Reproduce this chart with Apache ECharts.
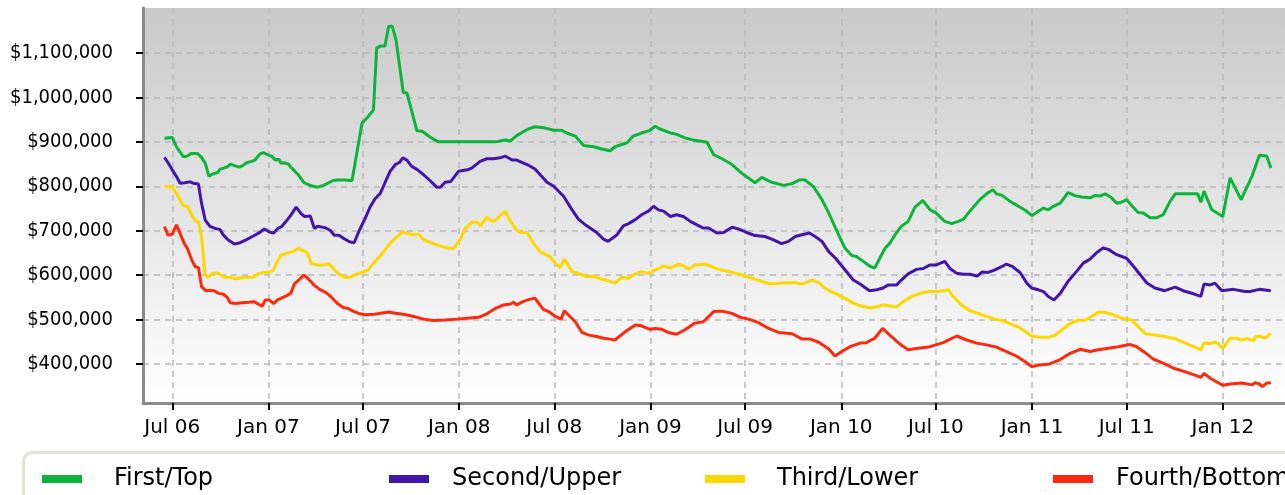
<!DOCTYPE html>
<html><head><meta charset="utf-8">
<script src="https://cdn.jsdelivr.net/npm/echarts@6/dist/echarts.min.js"></script>
<style>html,body{margin:0;padding:0;background:#fff;overflow:hidden}#c{width:1285px;height:495px}</style>
</head><body><div id="c"></div>
<script>
// ---- data (values in thousands of dollars) ----
const seriesNames = ['First/Top', 'Second/Upper', 'Third/Lower', 'Fourth/Bottom'];
const seriesColors = ['#0cb53a', '#4216a8', '#fdd700', '#fb2a0e'];
const xTickDates = ['2006-07-01','2007-01-01','2007-07-01','2008-01-01','2008-07-01','2009-01-01','2009-07-01','2010-01-01','2010-07-01','2011-01-01','2011-07-01','2012-01-01'];
const xTickLabels = ['Jul 06','Jan 07','Jul 07','Jan 08','Jul 08','Jan 09','Jul 09','Jan 10','Jul 10','Jan 11','Jul 11','Jan 12'];
const yTickValues = [400, 500, 600, 700, 800, 900, 1000, 1100];

const firstTop = [
['2006-06-16',908],['2006-07-01',910],['2006-07-09',889],['2006-07-22',867],['2006-07-28',867],['2006-08-06',874],['2006-08-18',874],['2006-08-26',865],['2006-09-02',852],['2006-09-09',823],['2006-09-17',828],['2006-09-26',831],['2006-09-30',838],['2006-10-13',843],['2006-10-21',850],['2006-10-29',846],['2006-11-06',843],['2006-11-12',846],['2006-11-20',853],['2006-11-30',856],['2006-12-06',859],['2006-12-16',873],['2006-12-22',876],
['2007-01-01',870],['2007-01-08',867],['2007-01-14',859],['2007-01-21',861],['2007-01-25',852],['2007-02-01',853],['2007-02-08',850],['2007-02-17',838],['2007-02-27',826],['2007-03-10',808],['2007-03-24',801],['2007-04-05',798],['2007-04-16',802],['2007-04-25',807],['2007-05-05',813],['2007-05-14',814],['2007-05-27',814],['2007-06-10',813],['2007-06-29',942],['2007-07-11',957],['2007-07-21',972],['2007-07-27',1111],['2007-08-04',1116],['2007-08-12',1116],['2007-08-19',1160],['2007-08-26',1160],['2007-09-02',1130],['2007-09-16',1011],['2007-09-23',1010],['2007-10-12',925],['2007-10-22',924],['2007-11-06',911],['2007-11-22',900],
['2008-03-10',900],['2008-03-29',904],['2008-04-08',902],['2008-04-20',914],['2008-05-10',928],['2008-05-25',934],['2008-06-10',932],['2008-06-30',926],['2008-07-15',926],['2008-07-25',920],['2008-08-10',913],['2008-08-26',892],['2008-09-14',889],['2008-09-30',884],['2008-10-16',880],['2008-10-25',889],['2008-11-17',898],['2008-11-29',913],['2008-12-15',920],['2008-12-31',926],
['2009-01-10',935],['2009-01-19',929],['2009-02-08',920],['2009-02-20',917],['2009-03-08',909],['2009-03-24',904],['2009-04-19',899],['2009-05-02',871],['2009-05-18',862],['2009-06-06',849],['2009-06-25',829],['2009-07-20',808],['2009-08-02',820],['2009-08-21',809],['2009-09-13',802],['2009-09-29',806],['2009-10-14',815],['2009-10-24',814],['2009-11-09',799],['2009-11-25',770],['2009-12-08',740],['2009-12-21',706],
['2010-01-08',661],['2010-01-21',644],['2010-01-30',642],['2010-02-12',631],['2010-02-25',620],['2010-03-06',616],['2010-03-26',661],['2010-04-04',672],['2010-04-14',691],['2010-04-26',710],['2010-05-09',721],['2010-05-22',753],['2010-06-06',768],['2010-06-20',747],['2010-07-01',740],['2010-07-18',721],['2010-07-31',716],['2010-08-13',721],['2010-08-23',726],['2010-09-04',744],['2010-09-23',770],['2010-10-06',783],['2010-10-18',792],['2010-10-25',783],['2010-11-04',780],['2010-11-20',766],['2010-12-06',755],['2010-12-19',746],
['2011-01-01',734],['2011-01-13',744],['2011-01-23',751],['2011-02-01',747],['2011-02-11',755],['2011-02-24',762],['2011-03-11',786],['2011-03-24',779],['2011-04-06',776],['2011-04-22',774],['2011-05-01',779],['2011-05-11',778],['2011-05-21',783],['2011-06-02',774],['2011-06-12',762],['2011-06-21',764],['2011-07-01',770],['2011-07-11',756],['2011-07-23',741],['2011-08-02',740],['2011-08-15',729],['2011-08-27',729],['2011-09-09',736],['2011-09-22',766],['2011-10-02',783],['2011-11-14',783],['2011-11-20',764],['2011-11-26',789],['2011-12-11',747],
['2012-01-01',732],['2012-01-15',819],['2012-02-05',770],['2012-02-26',823],['2012-03-11',870],['2012-03-25',868],['2012-04-02',841]
];

const secondUpper = [
['2006-06-16',865],['2006-06-23',853],['2006-07-01',837],['2006-07-09',822],['2006-07-16',807],['2006-07-25',808],['2006-08-04',810],['2006-08-10',807],['2006-08-20',805],['2006-08-26',762],['2006-09-02',724],['2006-09-11',710],['2006-09-21',705],['2006-09-30',703],['2006-10-07',690],['2006-10-16',679],['2006-10-28',670],['2006-11-08',673],['2006-11-20',680],['2006-12-03',688],['2006-12-14',695],['2006-12-24',704],
['2007-01-03',697],['2007-01-11',695],['2007-01-19',705],['2007-01-26',709],['2007-02-03',720],['2007-02-13',735],['2007-02-23',753],['2007-03-04',739],['2007-03-11',732],['2007-03-22',733],['2007-03-30',705],['2007-04-05',710],['2007-04-19',707],['2007-04-29',701],['2007-05-07',690],['2007-05-16',690],['2007-05-26',682],['2007-06-05',675],['2007-06-14',673],['2007-06-24',701],['2007-07-04',725],['2007-07-14',752],['2007-07-24',772],['2007-08-03',784],['2007-08-12',808],['2007-08-22',834],['2007-09-01',849],['2007-09-09',854],['2007-09-15',864],['2007-09-23',859],['2007-10-02',845],['2007-10-12',838],['2007-10-25',826],['2007-11-06',813],['2007-11-19',798],['2007-11-26',798],['2007-12-05',809],['2007-12-16',811],['2007-12-31',834],
['2008-01-19',838],['2008-01-25',841],['2008-02-10',856],['2008-02-23',862],['2008-03-07',862],['2008-03-19',864],['2008-03-29',868],['2008-04-11',859],['2008-04-20',859],['2008-05-10',849],['2008-05-25',839],['2008-06-04',826],['2008-06-17',809],['2008-06-30',800],['2008-07-19',777],['2008-08-04',747],['2008-08-16',726],['2008-09-01',711],['2008-09-20',696],['2008-10-03',681],['2008-10-12',676],['2008-10-29',691],['2008-11-10',711],['2008-11-20',716],['2008-12-03',725],['2008-12-15',736],['2008-12-28',744],
['2009-01-07',755],['2009-01-16',747],['2009-01-26',744],['2009-02-08',732],['2009-02-20',736],['2009-03-05',732],['2009-03-18',721],['2009-03-31',713],['2009-04-12',706],['2009-04-22',706],['2009-05-08',695],['2009-05-21',696],['2009-06-06',708],['2009-06-18',704],['2009-07-04',696],['2009-07-20',689],['2009-08-08',687],['2009-08-21',681],['2009-09-09',671],['2009-09-22',676],['2009-10-05',687],['2009-10-18',691],['2009-11-01',695],['2009-11-12',687],['2009-11-25',676],['2009-12-08',653],['2009-12-21',638],
['2010-01-08',612],['2010-01-24',589],['2010-02-06',580],['2010-02-24',565],['2010-03-10',567],['2010-03-22',571],['2010-04-01',578],['2010-04-17',578],['2010-04-26',589],['2010-05-09',603],['2010-05-25',613],['2010-06-07',615],['2010-06-20',623],['2010-07-02',623],['2010-07-18',631],['2010-07-28',615],['2010-08-10',604],['2010-08-23',602],['2010-09-04',602],['2010-09-18',598],['2010-09-27',607],['2010-10-09',606],['2010-10-22',612],['2010-11-04',619],['2010-11-13',625],['2010-11-25',619],['2010-12-09',606],['2010-12-22',582],['2010-12-31',571],
['2011-01-13',567],['2011-01-23',563],['2011-02-01',552],['2011-02-12',544],['2011-02-24',559],['2011-03-11',586],['2011-03-27',608],['2011-04-09',627],['2011-04-22',636],['2011-05-05',651],['2011-05-17',661],['2011-05-27',658],['2011-06-12',646],['2011-07-01',638],['2011-07-14',620],['2011-07-27',601],['2011-08-08',583],['2011-08-24',571],['2011-09-12',565],['2011-10-02',573],['2011-10-17',565],['2011-11-06',558],['2011-11-20',552],['2011-11-26',580],['2011-12-08',578],['2011-12-17',582],['2011-12-30',565],
['2012-01-21',568],['2012-02-13',563],['2012-02-22',563],['2012-03-11',568],['2012-04-02',565]
];

const thirdLower = [
['2006-06-16',799],['2006-07-01',799],['2006-07-09',784],['2006-07-16',769],['2006-07-22',756],['2006-07-30',755],['2006-08-07',736],['2006-08-14',723],['2006-08-20',720],['2006-08-26',686],['2006-09-02',600],['2006-09-08',596],['2006-09-18',605],['2006-09-27',604],['2006-10-07',596],['2006-10-20',595],['2006-10-29',592],['2006-11-11',594],['2006-11-24',595],['2006-12-04',596],['2006-12-14',604],['2006-12-24',606],
['2007-01-01',606],['2007-01-10',610],['2007-01-16',626],['2007-01-25',645],['2007-02-04',649],['2007-02-17',653],['2007-02-27',660],['2007-03-08',656],['2007-03-17',649],['2007-03-24',626],['2007-04-06',623],['2007-04-16',623],['2007-04-27',626],['2007-05-05',615],['2007-05-14',604],['2007-05-27',595],['2007-06-05',595],['2007-06-18',602],['2007-07-01',607],['2007-07-11',612],['2007-07-21',627],['2007-08-02',642],['2007-08-12',657],['2007-08-22',672],['2007-09-04',686],['2007-09-15',698],['2007-09-26',693],['2007-10-06',691],['2007-10-15',692],['2007-10-25',680],['2007-11-06',674],['2007-11-19',668],['2007-12-02',663],['2007-12-15',660],['2007-12-21',660],
['2008-01-03',680],['2008-01-12',704],['2008-01-25',719],['2008-02-04',719],['2008-02-11',711],['2008-02-23',731],['2008-03-04',721],['2008-03-10',723],['2008-03-19',734],['2008-03-29',744],['2008-04-08',721],['2008-04-20',702],['2008-04-27',696],['2008-05-10',696],['2008-05-22',672],['2008-06-04',653],['2008-06-23',641],['2008-07-03',627],['2008-07-12',617],['2008-07-20',636],['2008-08-04',608],['2008-08-20',602],['2008-09-01',597],['2008-09-14',597],['2008-09-27',592],['2008-10-16',586],['2008-10-25',582],['2008-11-07',595],['2008-11-20',593],['2008-12-03',603],['2008-12-15',608],['2008-12-28',604],
['2009-01-10',612],['2009-01-19',616],['2009-01-26',621],['2009-02-08',616],['2009-02-24',625],['2009-03-05',621],['2009-03-15',613],['2009-03-27',623],['2009-04-16',625],['2009-04-28',619],['2009-05-11',613],['2009-05-24',610],['2009-06-15',604],['2009-07-01',598],['2009-07-20',591],['2009-08-02',586],['2009-08-18',580],['2009-09-03',582],['2009-09-19',583],['2009-10-05',583],['2009-10-18',580],['2009-11-06',589],['2009-11-19',583],['2009-12-01',571],['2009-12-12',563],['2009-12-26',556],
['2010-01-11',546],['2010-01-24',537],['2010-02-06',531],['2010-02-15',529],['2010-02-25',526],['2010-03-10',529],['2010-03-22',533],['2010-04-04',531],['2010-04-17',528],['2010-04-30',541],['2010-05-16',552],['2010-06-01',559],['2010-06-17',563],['2010-07-02',563],['2010-07-15',565],['2010-07-25',567],['2010-08-03',552],['2010-08-19',533],['2010-09-04',520],['2010-09-20',514],['2010-10-06',507],['2010-10-22',501],['2010-11-07',497],['2010-11-23',489],['2010-12-06',483],['2010-12-19',473],['2010-12-31',463],
['2011-01-17',460],['2011-02-02',460],['2011-02-15',465],['2011-02-27',477],['2011-03-15',491],['2011-03-30',499],['2011-04-12',498],['2011-04-25',507],['2011-05-08',517],['2011-05-21',516],['2011-06-05',511],['2011-06-21',503],['2011-07-11',499],['2011-07-23',484],['2011-08-06',468],['2011-08-24',465],['2011-09-12',462],['2011-10-02',457],['2011-10-14',451],['2011-11-02',441],['2011-11-20',432],['2011-11-26',447],['2011-12-08',446],['2011-12-17',449],['2011-12-23',446],
['2012-01-01',435],['2012-01-15',458],['2012-01-28',458],['2012-02-06',454],['2012-02-16',457],['2012-02-22',455],['2012-02-29',453],['2012-03-04',462],['2012-03-14',462],['2012-03-22',458],['2012-04-02',469]
];

const fourthBottom = [
['2006-06-16',709],['2006-06-23',690],['2006-07-01',692],['2006-07-09',713],['2006-07-16',694],['2006-07-24',671],['2006-07-30',660],['2006-08-07',635],['2006-08-14',619],['2006-08-20',617],['2006-08-26',574],['2006-09-03',565],['2006-09-11',566],['2006-09-19',565],['2006-09-28',559],['2006-10-07',557],['2006-10-14',550],['2006-10-20',538],['2006-10-30',536],['2006-11-12',538],['2006-11-25',539],['2006-12-05',540],['2006-12-11',536],['2006-12-20',530],['2006-12-26',544],
['2007-01-03',544],['2007-01-11',536],['2007-01-19',545],['2007-01-29',550],['2007-02-04',553],['2007-02-13',560],['2007-02-20',581],['2007-02-28',589],['2007-03-10',600],['2007-03-17',593],['2007-03-30',577],['2007-04-09',568],['2007-04-22',560],['2007-05-01',551],['2007-05-13',536],['2007-05-24',527],['2007-06-02',525],['2007-06-12',519],['2007-06-25',513],['2007-07-05',511],['2007-07-23',512],['2007-08-19',517],['2007-09-01',514],['2007-09-16',512],['2007-10-06',507],['2007-10-25',501],['2007-11-13',498],['2007-12-05',499],['2007-12-28',501],
['2008-01-16',503],['2008-02-07',505],['2008-02-23',513],['2008-03-10',525],['2008-03-26',533],['2008-04-08',535],['2008-04-14',539],['2008-04-20',533],['2008-05-03',541],['2008-05-16',546],['2008-05-25',548],['2008-06-10',523],['2008-06-20',518],['2008-07-03',507],['2008-07-14',501],['2008-07-20',520],['2008-07-30',508],['2008-08-10',495],['2008-08-23',471],['2008-09-05',465],['2008-09-20',462],['2008-10-03',458],['2008-10-16',456],['2008-10-25',454],['2008-11-14',473],['2008-12-03',488],['2008-12-15',486],['2008-12-31',478],
['2009-01-10',480],['2009-01-23',478],['2009-02-04',471],['2009-02-20',467],['2009-03-08',477],['2009-03-27',492],['2009-04-12',495],['2009-05-02',518],['2009-05-18',519],['2009-06-06',514],['2009-06-22',505],['2009-07-08',501],['2009-07-27',493],['2009-08-15',480],['2009-09-03',471],['2009-09-29',468],['2009-10-18',456],['2009-11-03',456],['2009-11-19',449],['2009-12-08',434],['2009-12-20',418],
['2010-01-02',428],['2010-01-18',439],['2010-02-06',447],['2010-02-18',448],['2010-03-06',458],['2010-03-21',480],['2010-04-04',465],['2010-04-23',445],['2010-05-09',432],['2010-05-25',435],['2010-06-20',439],['2010-07-15',448],['2010-08-10',463],['2010-08-29',454],['2010-09-17',447],['2010-10-06',443],['2010-10-25',438],['2010-11-13',428],['2010-12-02',418],['2010-12-19',405],
['2011-01-01',394],['2011-01-16',398],['2011-02-04',400],['2011-02-24',410],['2011-03-15',424],['2011-04-03',433],['2011-04-22',428],['2011-05-08',432],['2011-05-24',435],['2011-06-15',439],['2011-07-07',444],['2011-07-20',439],['2011-08-05',426],['2011-08-21',411],['2011-09-09',402],['2011-09-28',391],['2011-10-17',384],['2011-11-06',376],['2011-11-20',370],['2011-11-26',379],['2011-12-08',368],['2011-12-20',360],
['2012-01-01',352],['2012-01-15',355],['2012-02-06',357],['2012-02-26',353],['2012-03-03',358],['2012-03-11',355],['2012-03-17',349],['2012-03-25',357],['2012-04-02',358]
];

// ---- chart ----
function parseLocal(s) { const p = s.split('-').map(Number); return Date.UTC(p[0], p[1] - 1, p[2]); }
const xTickTimes = xTickDates.map(parseLocal);
const labelByTime = {};
xTickTimes.forEach((t, i) => { labelByTime[t] = xTickLabels[i]; });
function money(v) {
  const s = String(Math.round(v * 1000));
  return '$' + s.replace(/\B(?=(\d{3})+(?!\d))/g, ',');
}
const allSeries = [firstTop, secondUpper, thirdLower, fourthBottom];
const FONT = 'DejaVu Sans';
const legendLeft = [42, 389, 705, 1053];
const legendTextPad = [27, 18, 27, 18];

const chart = echarts.init(document.getElementById('c'), null, { renderer: 'canvas' });
chart.setOption({
  animation: false,
  backgroundColor: '#ffffff',
  graphic: [{
    type: 'rect', z: 0, silent: true,
    shape: { x: 23.5, y: 452.5, width: 1320, height: 80, r: 9 },
    style: { fill: '#ffffff', stroke: '#e2e2da', lineWidth: 3 }
  }],
  grid: {
    left: 143, right: 0, top: 8, bottom: 92, show: true, borderWidth: 0,
    backgroundColor: { type: 'linear', x: 0, y: 0, x2: 0, y2: 1,
      colorStops: [{ offset: 0, color: '#c9c9c9' }, { offset: 1, color: '#ffffff' }] }
  },
  xAxis: {
    type: 'value',
    min: parseLocal('2006-05-06'), max: parseLocal('2012-04-29'),
    axisLine: { show: true, lineStyle: { color: '#8a8a8a', width: 3 } },
    axisTick: { show: true, length: 7, customValues: xTickTimes, lineStyle: { color: '#000', width: 2 } },
    axisLabel: { customValues: xTickTimes, margin: 15, fontSize: 20, fontFamily: FONT, color: '#000',
      formatter: v => labelByTime[v] || '' },
    splitLine: { show: true, lineStyle: { color: '#b9b9b9', width: 1.5, type: [6, 5] } }
  },
  yAxis: {
    type: 'value', min: 312.2, max: 1201.3,
    axisLine: { show: true, lineStyle: { color: '#8a8a8a', width: 3 } },
    axisTick: { show: true, length: 7, customValues: yTickValues, lineStyle: { color: '#000', width: 2 } },
    axisLabel: { customValues: yTickValues, margin: 30, fontSize: 20, fontFamily: "'DejaVu Sans Condensed', 'Liberation Sans', sans-serif", color: '#000',
      formatter: v => money(v) },
    splitLine: { show: true, lineStyle: { color: '#b9b9b9', width: 1.5, type: [6, 5] } }
  },
  legend: seriesNames.map((n, i) => ({
    data: [n], left: legendLeft[i], top: 467, padding: 0, z: 5,
    icon: 'rect', itemWidth: 40, itemHeight: 8, selectedMode: false,
    textStyle: { fontSize: 24, fontFamily: FONT, color: '#000', padding: [0, 0, 0, legendTextPad[i]] }
  })),
  series: allSeries.map((d, i) => ({
    name: seriesNames[i], type: 'line', showSymbol: false, symbol: 'none',
    color: seriesColors[i],
    lineStyle: { width: 3, color: seriesColors[i] },
    data: d.map(p => [parseLocal(p[0]), p[1]])
  }))
});
</script></body></html>
